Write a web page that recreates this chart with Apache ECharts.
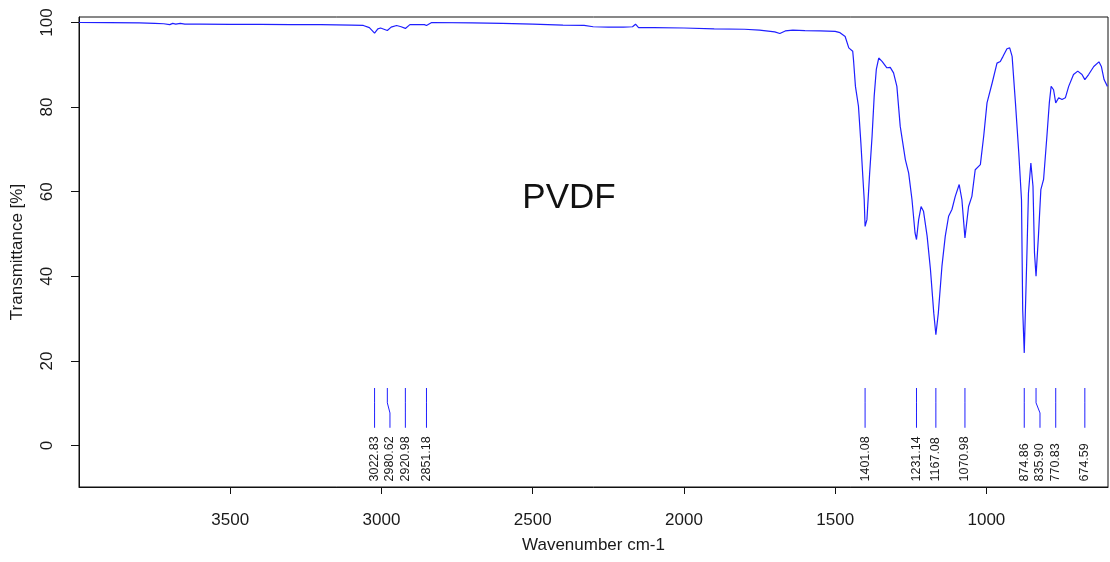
<!DOCTYPE html>
<html>
<head>
<meta charset="utf-8">
<title>PVDF FTIR spectrum</title>
<script src="https://cdn.jsdelivr.net/npm/echarts@6/dist/echarts.min.js"></script>
<style>
  html, body { margin: 0; padding: 0; background: #fff; }
  #chart { width: 1110px; height: 562px; }
</style>
</head>
<body>
<div id="chart"></div>
<script>
// FTIR spectrum of PVDF: wavenumber (cm-1) against transmittance (%)
const wavenumber = [
  4000, 3900, 3800, 3750, 3720, 3700, 3690, 3680, 3665, 3650, 3600, 3500, 3400,
  3300, 3200, 3100, 3060, 3040, 3022.83, 3012, 3003, 2980.62, 2968, 2950, 2935,
  2920.98, 2906, 2870, 2858, 2851.18, 2834, 2700, 2600, 2500, 2400, 2330, 2300,
  2250, 2200, 2170, 2160, 2150, 2100, 2000, 1900, 1800, 1750, 1700, 1683, 1665,
  1640, 1600, 1550, 1500, 1484, 1467, 1455, 1442, 1439, 1433, 1423, 1415, 1408,
  1404, 1401.08, 1395, 1386, 1378, 1371, 1364, 1356, 1345, 1329, 1318, 1307,
  1296, 1285, 1268, 1257, 1246, 1236, 1231.14, 1224, 1216, 1208, 1196, 1185,
  1174, 1167.08, 1159, 1147, 1136, 1125, 1114, 1103, 1090, 1081, 1070.98, 1059,
  1048, 1037, 1020, 1009, 998, 981, 965, 954, 945, 932, 923, 915, 904, 893, 884,
  880, 874.86, 866, 861, 853, 846, 841, 835.90, 828, 820, 811, 800, 792, 786,
  778, 770.83, 761, 750, 739, 728, 712, 698, 684, 674.59, 662, 645, 628, 620,
  611, 600
];
const transmittance = [
  100.0, 99.95, 99.9, 99.8, 99.7, 99.5, 99.8, 99.6, 99.8, 99.6, 99.6, 99.55, 99.55,
  99.5, 99.5, 99.4, 99.3, 98.8, 97.5, 98.5, 98.7, 98.1, 98.9, 99.3, 99.0,
  98.6, 99.5, 99.5, 99.5, 99.3, 100.0, 99.9, 99.8, 99.6, 99.4, 99.3, 99.0,
  98.9, 98.9, 99.0, 99.6, 98.8, 98.8, 98.7, 98.5, 98.4, 98.2, 97.8, 97.4, 98.0,
  98.2, 98.1, 98.0, 97.9, 97.6, 96.7, 94.0, 93.2, 90.8, 84.9, 80.2, 71.5, 62.9,
  58.1, 51.8, 53.4, 64.4, 73.1, 82.6, 88.9, 91.6, 90.8, 89.3, 89.4, 88.1,
  84.9, 75.5, 67.6, 64.4, 58.1, 50.3, 48.7, 53.4, 56.5, 55.4, 49.5, 41.6,
  31.3, 26.2, 31.3, 42.4, 49.5, 54.2, 55.8, 58.9, 61.7, 58.1, 49.1, 56.5,
  58.9, 65.2, 66.4, 73.1, 81.0, 85.7, 90.4, 90.8, 92.0, 93.8, 94.0, 92.0, 81.0, 69.2, 58.1,
  32.1, 21.9, 45.5, 59.7, 66.8, 61.3, 45.5, 40.0, 49.5, 60.5, 62.9, 73.1, 81.0, 84.9,
  84.1, 81.0, 82.2, 81.8, 82.2, 84.9, 87.7, 88.5, 87.7, 86.5, 87.7, 89.6, 90.7, 89.6,
  86.5, 84.9
];

// Picked peaks (cm-1)
const peaks = [3022.83, 2980.62, 2920.98, 2851.18, 1401.08, 1231.14, 1167.08,
               1070.98, 874.86, 835.90, 770.83, 674.59];

// Axis ticks
const xTicks = [1000, 1500, 2000, 2500, 3000, 3500];
const yTicks = [0, 20, 40, 60, 80, 100];

const sampleName = 'PVDF';

// Peak marker geometry, in transmittance units
const MARK_TOP = 13.6, MARK_BEND_HI = 10.1, MARK_BEND_LO = 7.7, MARK_BOTTOM = 4.2, LABEL_BASE = -8.5;
const MIN_LABEL_GAP = 46; // cm-1

// Spread crowded labels: of a close pair, the member that needs the
// smaller shift is moved to the midpoint of its two neighbours.
function layoutLabels(list) {
  const pos = list.slice();
  for (let i = 0; i < list.length - 1; i++) {
    if (Math.abs(list[i] - list[i + 1]) >= MIN_LABEL_GAP) continue;
    const cand = [];
    if (i - 1 >= 0) cand.push({ k: i, p: (list[i - 1] + list[i + 1]) / 2 });
    if (i + 2 < list.length) cand.push({ k: i + 1, p: (list[i] + list[i + 2]) / 2 });
    if (!cand.length) continue;
    cand.sort((a, b) => Math.abs(a.p - list[a.k]) - Math.abs(b.p - list[b.k]));
    pos[cand[0].k] = cand[0].p;
  }
  return pos;
}
const labelPos = layoutLabels(peaks);

const spectrum = wavenumber.map((w, i) => [w, transmittance[i]]);
const peakData = peaks.map((w, i) => [w, labelPos[i]]);

const BLUE = '#1f1fff';
const FONT = '"Liberation Sans", Arial, sans-serif';
const plain = v => String(v);

const chart = echarts.init(document.getElementById('chart'));
chart.setOption({
  animation: false,
  backgroundColor: '#fff',
  grid: { left: 79, right: 2, top: 17, bottom: 75, show: true, borderColor: '#111', borderWidth: 1 },
  xAxis: {
    type: 'value', inverse: true, min: 598, max: 4000,
    name: 'Wavenumber cm-1', nameLocation: 'middle', nameGap: 50,
    nameTextStyle: { fontFamily: FONT, fontSize: 17, color: '#1a1a1a' },
    axisLine: { show: true, onZero: false, lineStyle: { color: '#111', width: 1 } },
    axisTick: { show: true, length: 7, customValues: xTicks, lineStyle: { color: '#111' } },
    axisLabel: { customValues: xTicks, formatter: plain, margin: 25, fontFamily: FONT, fontSize: 17, color: '#1a1a1a' },
    splitLine: { show: false }
  },
  yAxis: {
    type: 'value', min: -9.8, max: 101.3,
    name: 'Transmittance [%]', nameLocation: 'middle', nameGap: 53,
    nameTextStyle: { fontFamily: FONT, fontSize: 17, color: '#1a1a1a' },
    axisLine: { show: true, onZero: false, lineStyle: { color: '#111', width: 1 } },
    axisTick: { show: true, length: 8, customValues: yTicks, lineStyle: { color: '#111' } },
    axisLabel: { customValues: yTicks, formatter: plain, rotate: 90, margin: 23, fontFamily: FONT, fontSize: 17, color: '#1a1a1a' },
    splitLine: { show: false }
  },
  graphic: [{
    type: 'text', x: 569, y: 198,
    style: { text: sampleName, align: 'center', verticalAlign: 'middle', fontFamily: FONT, fontSize: 35, fill: '#111' }
  }],
  series: [
    {
      type: 'line', data: spectrum, showSymbol: false, smooth: false,
      lineStyle: { color: BLUE, width: 1.2 }, silent: true, z: 3
    },
    {
      type: 'custom', data: peakData, silent: true, z: 4,
      renderItem: function (params, api) {
        const w = api.value(0), lw = api.value(1);
        const p0 = api.coord([w, MARK_TOP]);
        const p1 = api.coord([w, MARK_BEND_HI]);
        const p2 = api.coord([lw, MARK_BEND_LO]);
        const p3 = api.coord([lw, MARK_BOTTOM]);
        const t = api.coord([lw, LABEL_BASE]);
        return {
          type: 'group',
          children: [
            { type: 'polyline', shape: { points: [p0, p1, p2, p3] },
              style: { stroke: BLUE, lineWidth: 1, fill: null } },
            { type: 'text', x: t[0], y: t[1], rotation: Math.PI / 2,
              style: { text: w.toFixed(2), align: 'left', verticalAlign: 'middle',
                       fontFamily: FONT, fontSize: 12.5, fill: '#1a1a1a' } }
          ]
        };
      }
    }
  ]
});
</script>
</body>
</html>
